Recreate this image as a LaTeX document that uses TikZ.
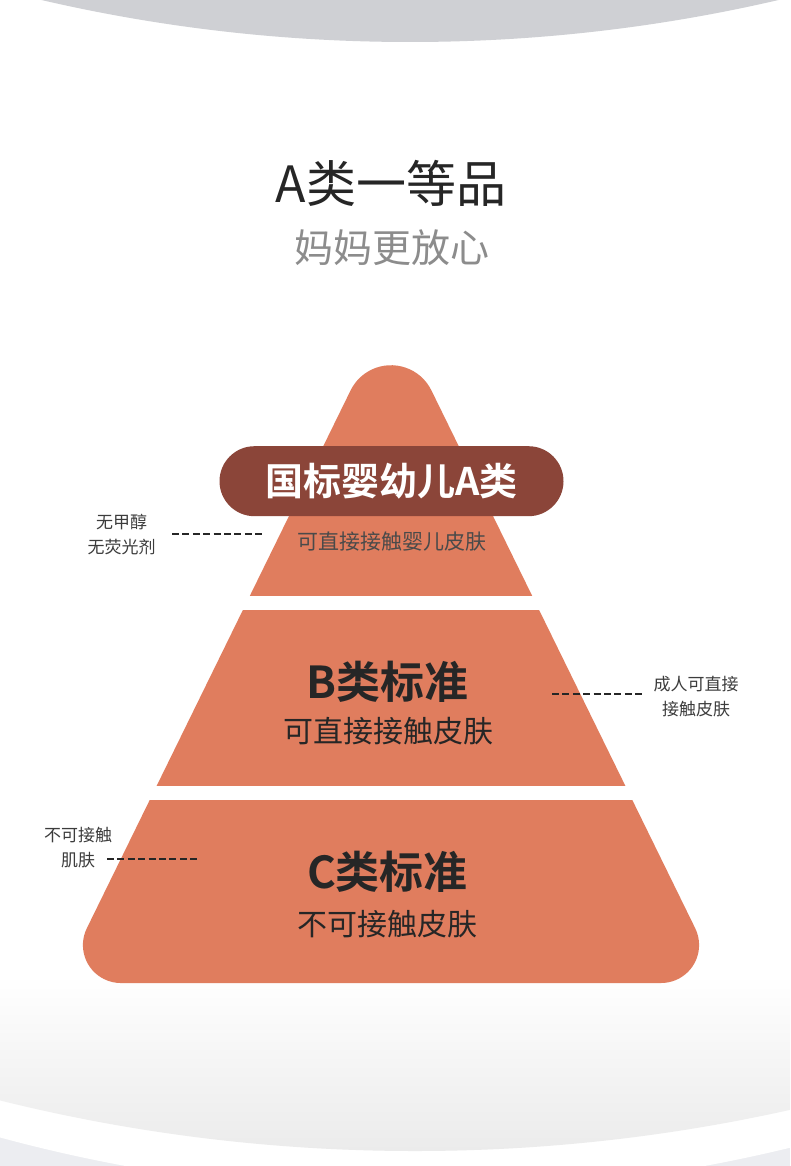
\documentclass[tikz,border=0pt]{standalone}
\usepackage{fontspec}
\setmainfont{Noto Sans CJK SC}[BoldFont={Noto Sans CJK SC Bold}]
\definecolor{pyr}{HTML}{E07D5E}
\definecolor{pillc}{HTML}{8B4539}
\definecolor{topgray}{HTML}{CFD0D4}
\definecolor{botgray}{HTML}{ECEDF1}
\definecolor{fadegray}{HTML}{EAEAEA}
\definecolor{darktxt}{HTML}{262626}
\definecolor{subtxt}{HTML}{8C8C8C}
\definecolor{atxt}{HTML}{4A4A4A}
\definecolor{sidetxt}{HTML}{3C3C3C}
\newcommand{\fs}[1]{\fontsize{#1}{#1}\selectfont}
\tikzset{
  txt/.style={inner sep=0pt, outer sep=0pt},
  heading/.style={txt, text=darktxt, font=\bfseries\fs{44}},
  subline/.style={txt, text=darktxt, font=\fs{30}},
  sidelabel/.style={txt, text=sidetxt, font=\fs{17}, align=center},
  leader/.style={draw=darktxt, line width=2.2pt, dash pattern=on 7pt off 3.4pt},
  band/.style={fill=white},
  pillbox/.style={fill=pillc, rounded corners=35pt, minimum width=344pt, minimum height=70pt,
    inner sep=0pt, text=white, font=\bfseries\fs{38}}
}
\begin{document}
\begin{tikzpicture}[x=1pt,y=-1pt]
\useasboundingbox (0,0) rectangle (790,1166);
\begin{scope}
  \clip (0,0) rectangle (790,1166);
  \fill[white] (0,0) rectangle (790,1166);
  \fill[botgray] (0,1100) rectangle (790,1166);
  \fill[white] (415,-390.6) circle[radius=1583];
  \begin{scope}
    \clip (415,-563) circle[radius=1714];
    \shade[top color=white, bottom color=fadegray] (0,975) rectangle (790,1160);
  \end{scope}
  \fill[topgray] (410,-1582) circle[radius=1624];
\end{scope}

% pyramid
\fill[pyr] (120.9,983) -- (661.1,983)
  arc[start angle=90, end angle=-26.12, radius=38] -- (431.4,390.4)
  arc[start angle=-26.12, end angle=-153.88, radius=45] -- (86.8,928.3)
  arc[start angle=-153.88, end angle=-270, radius=38] -- cycle;
\fill[band] (100,596) rectangle (690,610);
\fill[band] (100,786) rectangle (690,800);

% titles
\node[txt, text=darktxt, font=\fs{50}] (title) at (391,183) {A类一等品};
\node[txt, text=subtxt, font=\fs{39}] (subtitle) at (391.5,248) {妈妈更放心};

% tier A
\node[pillbox] (pill) at (391.5,481.2) {国标婴幼儿A类};
\node[txt, text=atxt, font=\fs{21}] (adesc) at (392,542) {可直接接触婴儿皮肤};

% tier B
\node[heading] (bhead) at (387.5,682) {B类标准};
\node[subline] (bdesc) at (388.5,731) {可直接接触皮肤};

% tier C
\node[heading] (chead) at (387.5,872) {C类标准};
\node[subline] (cdesc) at (387.5,924) {不可接触皮肤};

% side labels
\node[sidelabel] (lblA) at (121.5,535) {无甲醇\\[8pt]无荧光剂};
\coordinate (dA1) at (172,534);
\coordinate (dA2) at (264,534);
\draw[leader] (dA1) -- (dA2);

\node[sidelabel] (lblB) at (696,697) {成人可直接\\[8pt]接触皮肤};
\coordinate (dB1) at (552,694);
\coordinate (dB2) at (644,694);
\draw[leader] (dB1) -- (dB2);

\node[sidelabel] (lblC) at (78,847.5) {不可接触\\[8pt]肌肤};
\coordinate (dC1) at (107,859);
\coordinate (dC2) at (199,859);
\draw[leader] (dC1) -- (dC2);
\end{tikzpicture}
\end{document}
